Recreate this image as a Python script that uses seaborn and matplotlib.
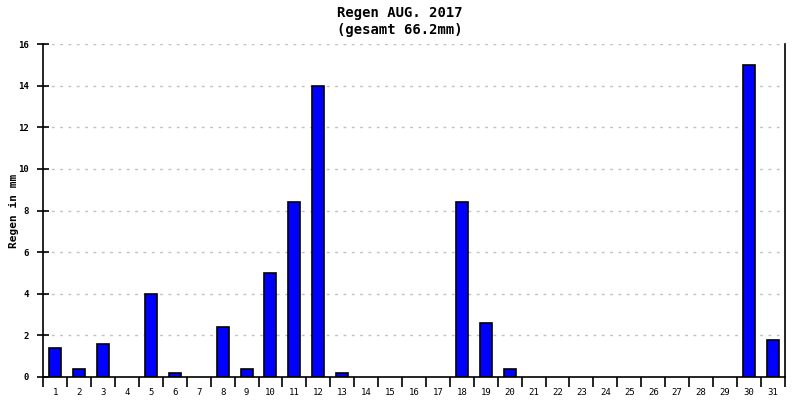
import matplotlib
matplotlib.use("Agg")
import matplotlib.pyplot as plt
import seaborn as sns
import pandas as pd

# daily rain, August 2017
days = list(range(1, 32))
rain_mm = [1.4, 0.4, 1.6, 0.0, 4.0, 0.2, 0.0, 2.4, 0.4, 5.0,
           8.4, 14.0, 0.2, 0.0, 0.0, 0.0, 0.0, 8.4, 2.6, 0.4,
           0.0, 0.0, 0.0, 0.0, 0.0, 0.0, 0.0, 0.0, 0.0, 15.0, 1.8]
y_ticks = [0, 2, 4, 6, 8, 10, 12, 14, 16]

df = pd.DataFrame({"Tag": [str(d) for d in days], "Regen": rain_mm})

sns.set_style("white", {"xtick.bottom": True, "ytick.left": True,
                        "text.color": "black", "axes.labelcolor": "black",
                        "xtick.color": "black", "ytick.color": "black"})
plt.rcParams['font.family'] = ['DejaVu Sans Mono', 'DejaVu Sans']

fig = plt.figure(figsize=(8, 4), dpi=100)
ax = fig.add_axes([0.054, 0.0575, 0.927, 0.8325])

sns.barplot(data=df, x="Tag", y="Regen", color="#0000ff", width=0.5,
            edgecolor="black", linewidth=1.2, saturation=1, ax=ax)
# no outline for dry days
for p in ax.patches:
    if p.get_height() == 0:
        p.set_visible(False)

ax.set_xlim(-0.5, len(days) - 0.5)
ax.set_ylim(0, 16)
ax.set_yticks(y_ticks)
ax.set_yticklabels([str(t) for t in y_ticks], fontsize=6.5, fontweight="bold")
ax.set_xticks(range(len(days)))
ax.set_xticklabels([str(d) for d in days], fontsize=6.5)
ax.tick_params(axis="x", which="major", length=0, pad=8)
# ticks between the bars
ax.set_xticks([i - 0.5 for i in range(len(days) + 1)], minor=True)
ax.tick_params(axis="x", which="minor", bottom=True, length=7, width=1.2,
               direction="out", color="black")
ax.tick_params(axis="y", left=True, length=9, width=1.2, direction="inout",
               color="black", pad=6)

ax.yaxis.grid(True, linestyle=(0, (2, 4)), color="#c0c0c0", linewidth=1)
ax.set_axisbelow(True)

for s in ["left", "bottom", "right"]:
    ax.spines[s].set_visible(True)
    ax.spines[s].set_color("black")
    ax.spines[s].set_linewidth(1.2)
ax.spines["top"].set_visible(False)

ax.set_xlabel("")
ax.set_ylabel("Regen in mm", fontsize=8, fontweight="bold", labelpad=4)
ax.yaxis.set_label_coords(-0.033, 0.5)
fig.suptitle("Regen AUG. 2017\n(gesamt %.1fmm)" % sum(rain_mm),
             fontsize=10, fontweight="bold", y=0.985, linespacing=1.3)

fig.savefig("out.png", dpi=100)
